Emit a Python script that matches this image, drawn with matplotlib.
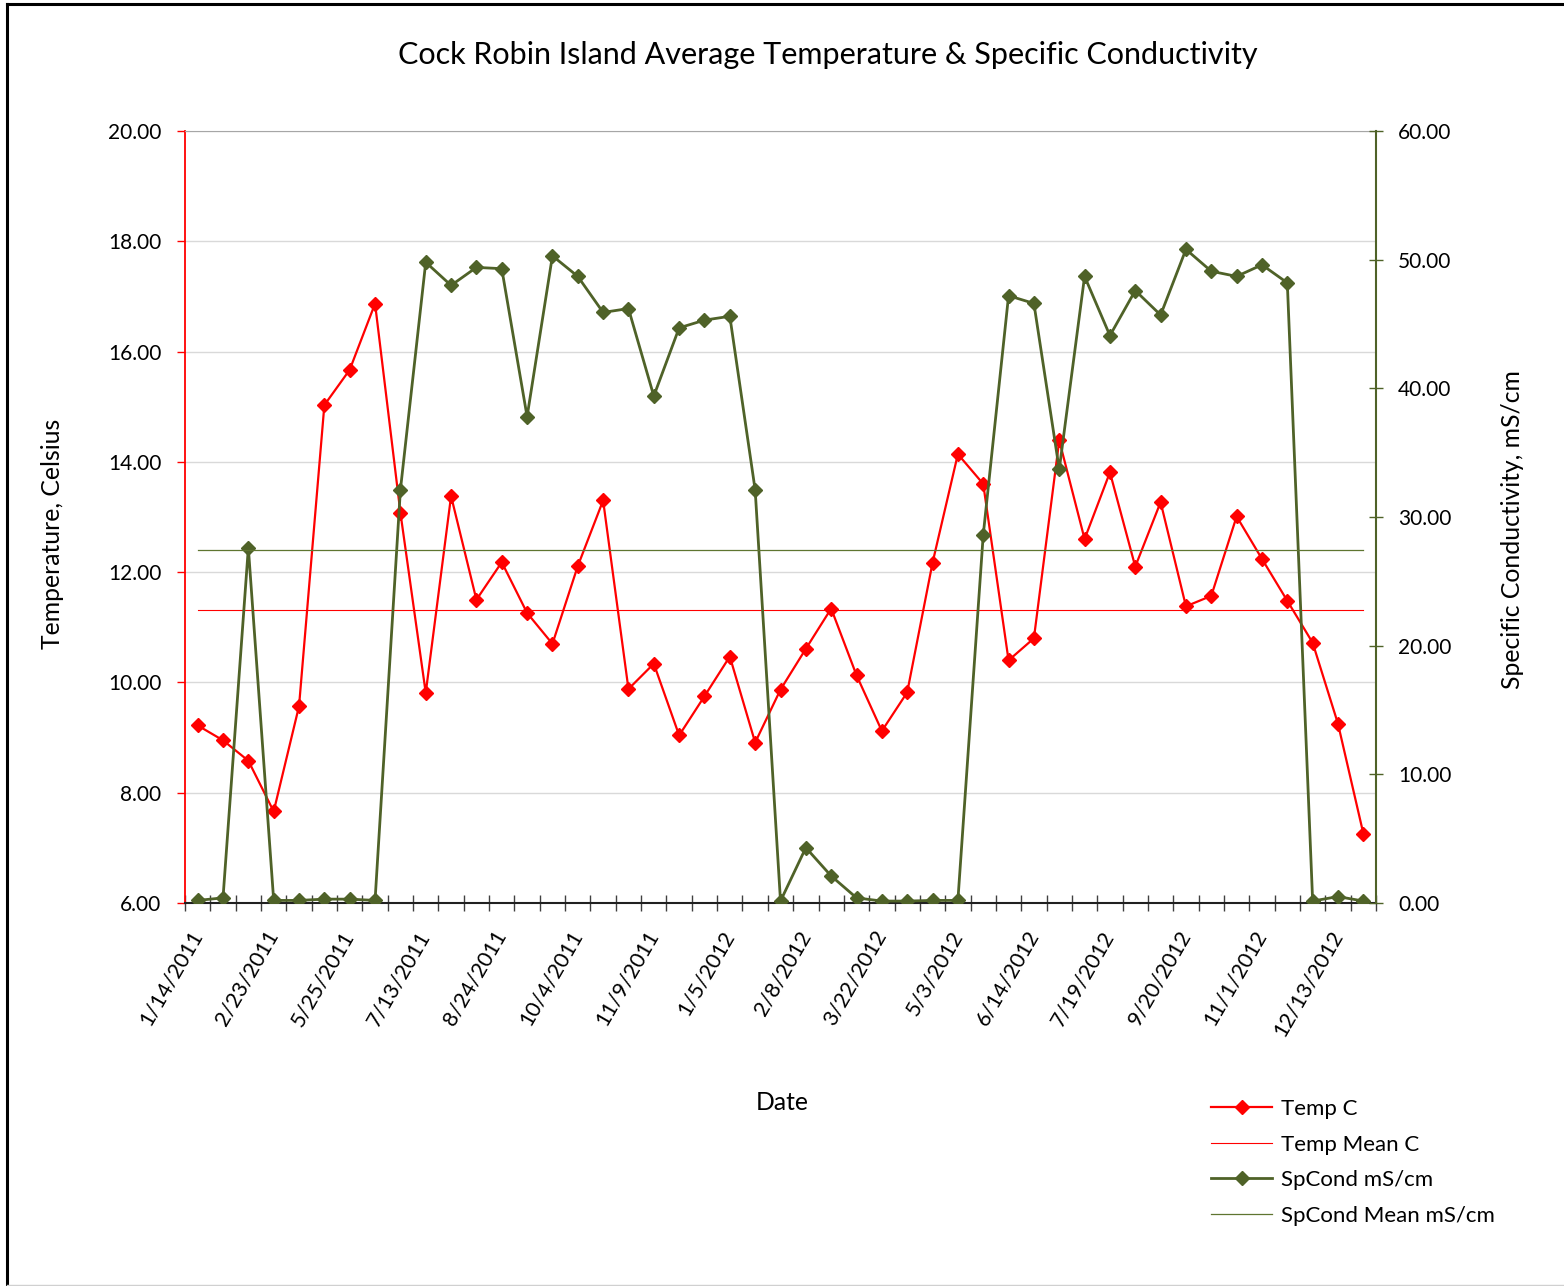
"""Cock Robin Island temperature & specific conductivity chart."""

import matplotlib

matplotlib.use("Agg")
import matplotlib.pyplot as plt
from matplotlib.lines import Line2D
from matplotlib.ticker import FixedLocator, MultipleLocator, FormatStrFormatter

plt.rcParams["font.family"] = ["Lato", "DejaVu Sans"]

# every third category is labelled on the axis (47 sampling dates in total)
tick_dates = [
    "1/14/2011", "2/23/2011", "5/25/2011", "7/13/2011", "8/24/2011", "10/4/2011",
    "11/9/2011", "1/5/2012", "2/8/2012", "3/22/2012", "5/3/2012", "6/14/2012",
    "7/19/2012", "9/20/2012", "11/1/2012", "12/13/2012",
]

temp_c = [
    9.22, 8.95, 8.58, 7.66, 9.57, 15.03, 15.67, 16.87, 13.08, 9.81,
    13.38, 11.50, 12.18, 11.26, 10.70, 12.11, 13.30, 9.88, 10.34, 9.04,
    9.75, 10.47, 8.91, 9.87, 10.61, 11.34, 10.13, 9.12, 9.82, 12.17,
    14.14, 13.60, 10.40, 10.80, 14.39, 12.60, 13.81, 12.10, 13.27, 11.38,
    11.57, 13.01, 12.24, 11.48, 10.72, 9.25, 7.26,
]

spcond = [
    0.2, 0.4, 27.6, 0.2, 0.2, 0.3, 0.3, 0.2, 32.1, 49.8,
    48.0, 49.4, 49.3, 37.8, 50.3, 48.7, 45.9, 46.2, 39.4, 44.7,
    45.3, 45.6, 32.1, 0.15, 4.3, 2.1, 0.4, 0.15, 0.15, 0.2,
    0.2, 28.6, 47.2, 46.6, 33.7, 48.7, 44.1, 47.6, 45.7, 50.8,
    49.1, 48.7, 49.6, 48.2, 0.15, 0.5, 0.15,
]

temp_mean = 11.32
spcond_mean = 27.43

RED = "#FF0000"
OLIVE = "#4F6228"
OLIVE_LIGHT = "#5F7530"

n = len(temp_c)
x = list(range(n))

fig = plt.figure(figsize=(15.64, 12.86), dpi=100)
ax = fig.add_axes([185 / 1564, 1 - 903 / 1286, 1191 / 1564, 772 / 1286])
ax2 = ax.twinx()

ax.set_xlim(-0.5, n - 0.5)
ax.set_ylim(6, 20)
ax2.set_ylim(0, 60)

ax.yaxis.set_major_locator(MultipleLocator(2))
ax.yaxis.set_major_formatter(FormatStrFormatter("%.2f"))
ax2.yaxis.set_major_locator(MultipleLocator(10))
ax2.yaxis.set_major_formatter(FormatStrFormatter("%.2f"))
ax.grid(axis="y", color="#D9D9D9", linewidth=1)
ax.set_axisbelow(True)

# category ticks between points, labels under every third point
ax.xaxis.set_major_locator(FixedLocator(list(range(0, n, 3))[: len(tick_dates)]))
ax.set_xticklabels(tick_dates, rotation=60, ha="right", va="center", rotation_mode="anchor")
ax.xaxis.set_minor_locator(FixedLocator([i - 0.5 for i in range(n + 1)]))
ax.tick_params(axis="x", which="major", length=0, pad=21, labelsize=15.5)
ax.tick_params(axis="x", which="minor", direction="inout", length=11, width=1, color="#404040")
ax.tick_params(axis="y", direction="out", length=6, width=1, color=RED, pad=11, labelsize=15)
ax2.tick_params(axis="y", direction="inout", length=10, width=1, color=OLIVE, pad=11, labelsize=15)

for side in ("left", "right", "top", "bottom"):
    ax.spines[side].set_visible(False)
    ax2.spines[side].set_visible(False)
ax.spines["left"].set_visible(True)
ax.spines["left"].set_color(RED)
ax.spines["left"].set_linewidth(1.3)
ax.spines["bottom"].set_visible(True)
ax.spines["bottom"].set_color("#202020")
ax.spines["bottom"].set_linewidth(1.5)
ax.spines["top"].set_visible(True)
ax.spines["top"].set_color("#A6A6A6")
ax2.spines["right"].set_visible(True)
ax2.spines["right"].set_color(OLIVE)
ax2.spines["right"].set_linewidth(1.5)

ax.plot(x, temp_c, color=RED, lw=1.6, marker="D", ms=7, label="Temp C")
ax.plot(x, [temp_mean] * n, color=RED, lw=0.8, label="Temp Mean C")
ax2.plot(x, spcond, color=OLIVE, lw=2, marker="D", ms=7, label="SpCond mS/cm")
ax2.plot(x, [spcond_mean] * n, color=OLIVE_LIGHT, lw=0.9, label="SpCond Mean mS/cm")

fig.text(828 / 1564, 1 - 55 / 1286, "Cock Robin Island Average Temperature & Specific Conductivity",
         ha="center", va="center", fontsize=22)
fig.text(52 / 1564, 1 - 534 / 1286, "Temperature, Celsius", rotation=90,
         ha="center", va="center", fontsize=17.8)
fig.text(1513 / 1564, 1 - 530 / 1286, "Specific Conductivity, mS/cm", rotation=90,
         ha="center", va="center", fontsize=17.8)
fig.text(782 / 1564, 1 - 1103 / 1286, "Date", ha="center", va="center", fontsize=17.8)

h1, l1 = ax.get_legend_handles_labels()
h2, l2 = ax2.get_legend_handles_labels()
fig.legend(h1 + h2, l1 + l2, loc="upper left", bbox_to_anchor=(1211 / 1564, 1 - 1099 / 1286),
           frameon=False, fontsize=16, handlelength=2.75, handletextpad=0.4, labelspacing=0.7,
           borderaxespad=0, borderpad=0)

# outer chart border (top and left edges visible)
fig.add_artist(Line2D([7 / 1564, 7 / 1564], [0, 1 - 4 / 1286], color="black", lw=2.2,
                      transform=fig.transFigure))
fig.add_artist(Line2D([7 / 1564, 1], [1 - 4 / 1286, 1 - 4 / 1286], color="black", lw=2.2,
                      transform=fig.transFigure))
fig.add_artist(Line2D([7 / 1564, 1], [1.5 / 1286, 1.5 / 1286], color="#D0D0D0", lw=1,
                      transform=fig.transFigure))

fig.savefig("out.png", dpi=100)
